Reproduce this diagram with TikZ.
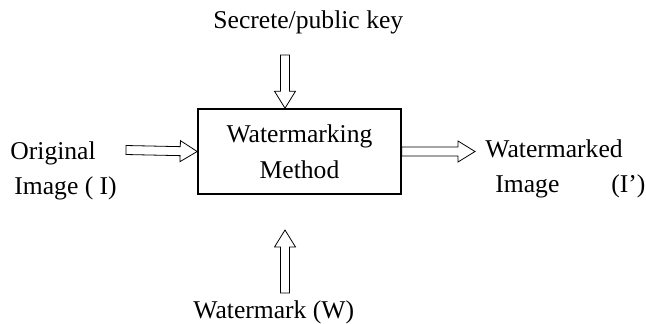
\documentclass[tikz,border=0pt]{standalone}
\usepackage{fontspec}
\setmainfont{Liberation Serif}
\usetikzlibrary{calc}

\tikzset{
  lbl/.style={font=\fontsize{12.8}{17.5}\selectfont, inner sep=0pt},
  box/.style={draw, line width=0.8pt, minimum width=101.5pt, minimum height=42.5pt,
    align=center, font=\fontsize{12.8}{18}\selectfont},
  blockarrow/.style={line width=0.7pt, to path={
    ($(\tikztostart)!2.25pt!90:(\tikztotarget)$)
    -- ($(\tikztotarget)!8.5pt!(\tikztostart)!2.25pt!-90:(\tikztostart)$)
    -- ($(\tikztotarget)!8.5pt!(\tikztostart)!5.25pt!-90:(\tikztostart)$)
    -- (\tikztotarget)
    -- ($(\tikztotarget)!8.5pt!(\tikztostart)!5.25pt!90:(\tikztostart)$)
    -- ($(\tikztotarget)!8.5pt!(\tikztostart)!2.25pt!90:(\tikztostart)$)
    -- ($(\tikztostart)!2.25pt!-90:(\tikztotarget)$)
    -- cycle}}
}

\begin{document}
\begin{tikzpicture}[x=0.5pt,y=-0.5pt]
\useasboundingbox (0,0) rectangle (646,323);
% block and texts
\node[box] (wm) at (299.5,151.5) {Watermarking\\Method};
\node[lbl, anchor=base west] (key) at (213,28) {Secrete/public key};
\node[lbl, anchor=base west, align=left] (orig) at (10,194) {Original\\\hspace{2pt}Image ( I)};
\node[lbl, anchor=base west, align=left] (marked) at (485,192) {Watermarked\\\hspace{5pt}Image\hspace{26pt}(I’)};
\node[lbl, anchor=base west] (mark) at (193,318) {Watermark (W)};
% free ends of the arrows
\coordinate (keyout) at (285,55);
\coordinate (origout) at (126,150);
\coordinate (markedin) at (475,151.5);
\coordinate (marktail) at (285,293);
\coordinate (markhead) at (285,230);
% arrows
\draw (keyout) to[blockarrow] (keyout |- wm.north);
\draw (origout) to[blockarrow] (wm.west);
\draw (wm.east) to[blockarrow] (markedin);
\draw (marktail) to[blockarrow] (markhead);
\end{tikzpicture}
\end{document}
